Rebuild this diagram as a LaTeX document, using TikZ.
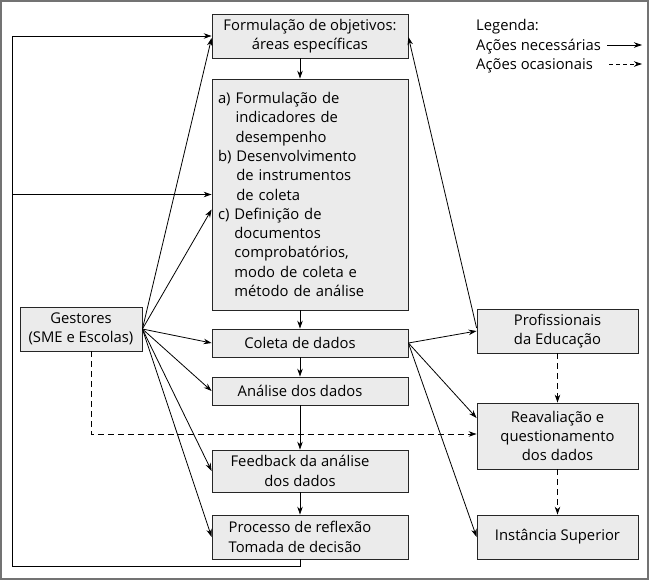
\documentclass[tikz,border=0pt]{standalone}
\usepackage{fontspec}
\setmainfont{Open Sans}
\usetikzlibrary{arrows.meta,calc}
\newcommand\padR{\hbox to 20pt{}}
\begin{document}
\begin{tikzpicture}[x=1pt,y=-1pt,
  box/.style={draw=black!85, fill=black!8, line width=0.8pt, inner sep=0pt,
    font=\fontsize{14.8}{19.3}\selectfont, align=center},
  txt/.style={inner sep=0pt, font=\fontsize{14.8}{19.3}\selectfont},
  arr/.style={-{Stealth[length=8pt,width=5.5pt]}, line width=0.8pt},
  darr/.style={arr, dash pattern=on 6pt off 4pt}]
\useasboundingbox (0,0) rectangle (650,581);
\draw[black!55, line width=1.5pt] (1,1) rectangle (648,579);
% boxes
\node[box, minimum width=196pt, minimum height=44pt] (F) at (310,36) {Formulação de objetivos:\\áreas específicas};
\node[box, text width=184pt, inner xsep=6pt, minimum height=231pt, align=left] (B) at (310,194.5)
 {a) Formulação de\\
  \hphantom{a) }indicadores de\\
  \hphantom{a) }desempenho\\
  b) Desenvolvimento\\
  \hphantom{b) }de instrumentos\\
  \hphantom{b) }de coleta\\
  c) Definição de\\
  \hphantom{c) }documentos\\
  \hphantom{c) }comprobatórios,\\
  \hphantom{c) }modo de coleta e\\
  \hphantom{c) }método de análise};
\node[box, minimum width=196pt, minimum height=28pt] (C) at (310,343) {Coleta de dados\padR};
\node[box, minimum width=196pt, minimum height=28pt] (A) at (310,391) {Análise dos dados\padR};
\node[box, minimum width=196pt, minimum height=42pt] (FB) at (310,471) {Feedback da análise\padR\\dos dados\padR};
\node[box, minimum width=196pt, minimum height=44pt, align=left] (PR) at (310,537) {Processo de reflexão\padR\\Tomada de decisão};
\node[box, minimum width=122pt, minimum height=44pt] (G) at (81,329) {Gestores\\(SME e Escolas)};
\node[box, minimum width=161pt, minimum height=44pt] (PF) at (557.5,331) {Profissionais\\da Educação};
\node[box, minimum width=161pt, minimum height=66pt] (R) at (557.5,436) {Reavaliação e\\questionamento\\dos dados};
\node[box, minimum width=161pt, minimum height=44pt] (I) at (557.5,537) {Instância Superior};
% legend
\node[txt, anchor=base west] (LG) at (476,30) {Legenda:};
\node[txt, anchor=base west] (LN) at (476,50) {Ações necessárias};
\node[txt, anchor=base west] (LO) at (476,69) {Ações ocasionais};
\coordinate (LN1) at (607,45); \coordinate (LN2) at (642,45);
\coordinate (LO1) at (609,64); \coordinate (LO2) at (642,64);
\draw[arr] (LN1) -- (LN2);
\draw[darr, dash pattern=on 4pt off 3pt] (LO1) -- (LO2);
% vertical flow
\draw[arr] ([xshift=-10pt]F.south) -- ([xshift=-10pt]B.north);
\draw[arr] ([xshift=-10pt]B.south) -- ([xshift=-10pt]C.north);
\draw[arr] ([xshift=-10pt]C.south) -- ([xshift=-10pt]A.north);
\draw[arr] ([xshift=-10pt]A.south) -- ([xshift=-10pt]FB.north);
\draw[arr] ([xshift=-10pt]FB.south) -- ([xshift=-10pt]PR.north);
% feedback loop
\coordinate (L1) at (12,566);
\coordinate (L3) at (12,194.5);
\draw[arr] ([xshift=-10pt]PR.south) |- (L1) |- (F.west);
\draw[arr] (L3) -- (B.west);
% gestores
\draw[arr] (G.east) -- ([yshift=-2pt]F.west);
\draw[arr] (G.east) -- ([yshift=-15pt]B.west);
\draw[arr] (G.east) -- (C.west);
\draw[arr] (G.east) -- (A.west);
\draw[arr] (G.east) -- (FB.west);
\draw[arr] (G.east) -- (PR.west);
\draw[darr] ([xshift=10pt]G.south) |- ([yshift=2pt]R.west);
% coleta
\draw[arr] (C.east) -- (PF.west);
\draw[arr] (C.east) -- ([yshift=18pt]R.west);
\draw[arr] (C.east) -- (I.west);
% profissionais
\draw[arr] ([yshift=3pt]PF.west) -- ([yshift=-1pt]F.east);
\draw[darr] (PF.south) -- (R.north);
\draw[darr] (R.south) -- (I.north);
\end{tikzpicture}
\end{document}
